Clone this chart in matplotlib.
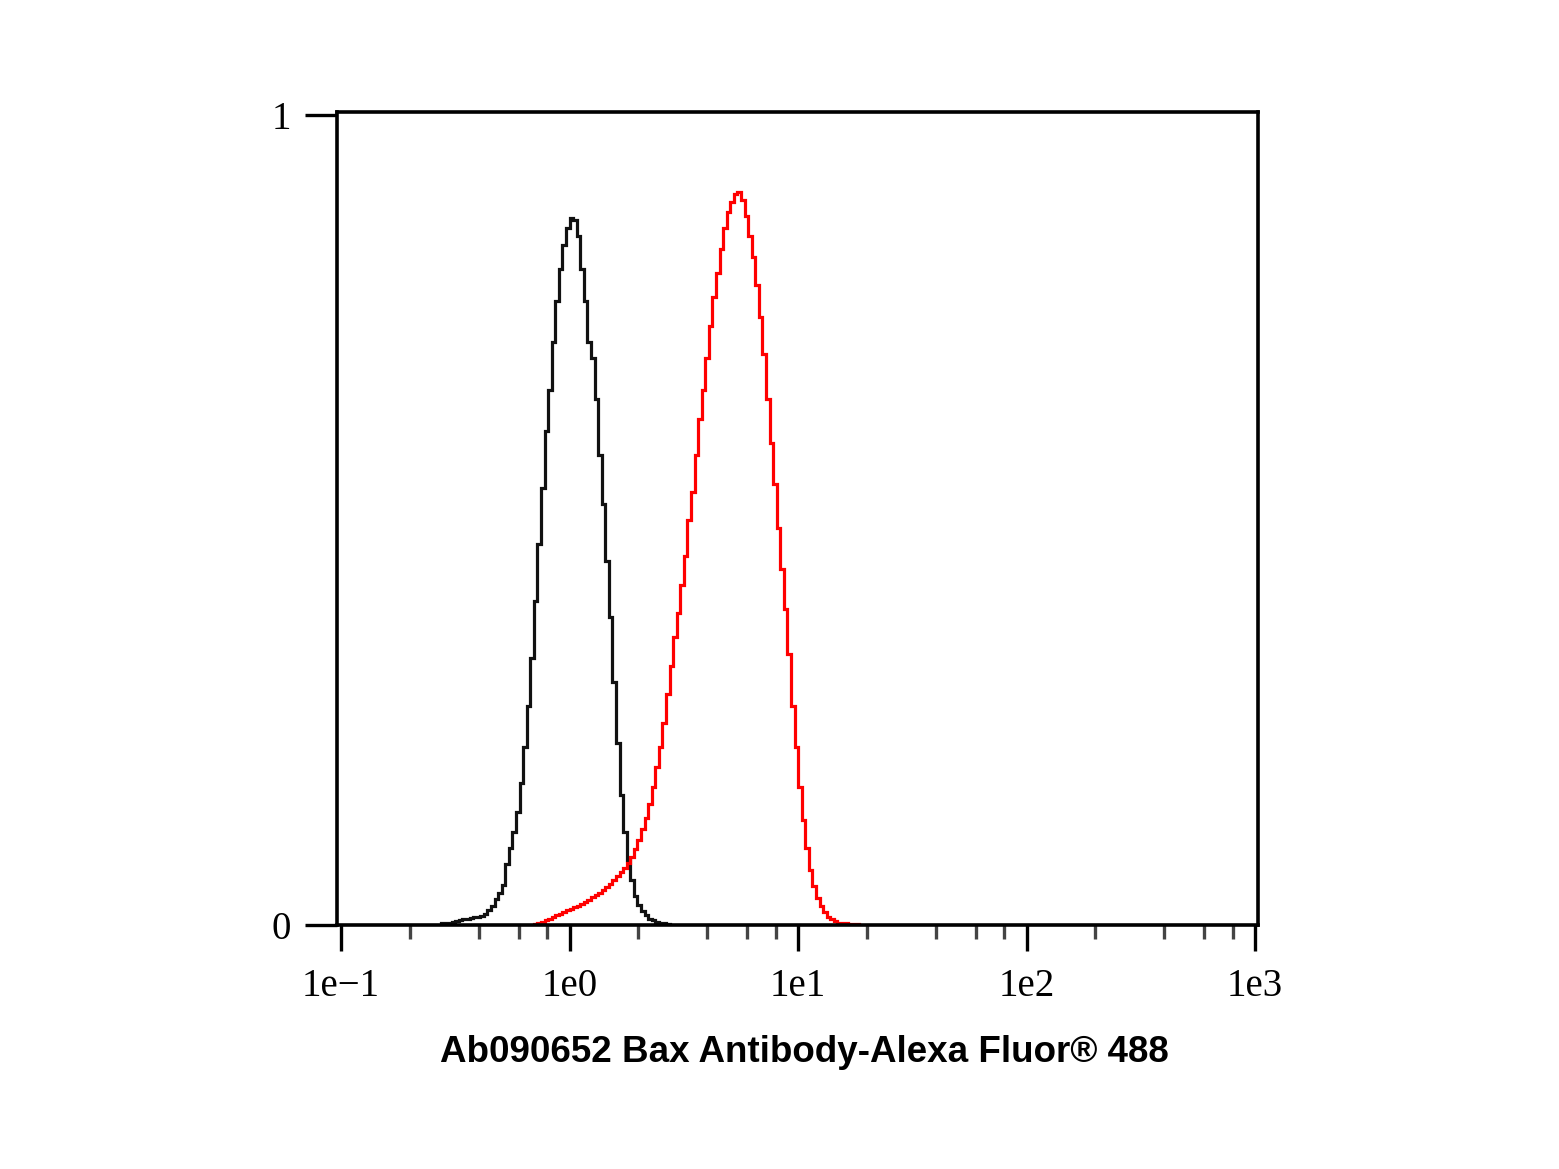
import numpy as np
import matplotlib
matplotlib.use("Agg")
import matplotlib.pyplot as plt
from matplotlib.ticker import LogLocator, NullFormatter

#-------------------------Datos---------------------------------------
canales_por_decada = 64   # 256 canales en 4 decadas

# histograma negro (control), empieza en el canal 28
inicio_negro = 28
alturas_negro = [0.002, 0.003, 0.003, 0.004, 0.005, 0.006, 0.007, 0.008, 0.009, 0.010,
                 0.010, 0.011, 0.014, 0.018, 0.024, 0.032, 0.040, 0.050, 0.075, 0.095,
                 0.115, 0.140, 0.175, 0.220, 0.270, 0.330, 0.400, 0.470, 0.540, 0.610,
                 0.660, 0.720, 0.770, 0.810, 0.840, 0.860, 0.873, 0.870, 0.850, 0.810,
                 0.770, 0.720, 0.700, 0.650, 0.580, 0.520, 0.450, 0.380, 0.300, 0.225,
                 0.160, 0.115, 0.080, 0.055, 0.036, 0.025, 0.017, 0.012, 0.008, 0.006,
                 0.004, 0.003, 0.002, 0.001]

# histograma rojo (Bax), empieza en el canal 54
inicio_rojo = 54
alturas_rojo = [0.001, 0.002, 0.004, 0.006, 0.008, 0.010, 0.012, 0.014, 0.016, 0.018,
                0.020, 0.022, 0.024, 0.026, 0.028, 0.031, 0.034, 0.037, 0.040, 0.043,
                0.047, 0.051, 0.055, 0.060, 0.065, 0.070, 0.076, 0.084, 0.094, 0.105,
                0.118, 0.132, 0.150, 0.170, 0.195, 0.220, 0.250, 0.285, 0.320, 0.355,
                0.385, 0.420, 0.455, 0.500, 0.535, 0.580, 0.625, 0.660, 0.700, 0.740,
                0.775, 0.805, 0.835, 0.860, 0.880, 0.893, 0.903, 0.905, 0.895, 0.875,
                0.850, 0.825, 0.790, 0.750, 0.705, 0.650, 0.595, 0.545, 0.490, 0.440,
                0.390, 0.335, 0.270, 0.220, 0.170, 0.130, 0.095, 0.068, 0.048, 0.033,
                0.023, 0.016, 0.010, 0.007, 0.005, 0.003, 0.002, 0.002, 0.001, 0.001,
                0.001]

ticks_x = [0.1, 1, 10, 100, 1000]
etiquetas_x = ["1e\u22121", "1e0", "1e1", "1e2", "1e3"]
ticks_y = [0, 1]
etiquetas_y = ["0", "1"]
titulo = "Ab090652 Bax Antibody-Alexa Fluor\u00ae 488"


def bordes(inicio, alturas):
    # bordes de los canales en escala log
    canales = np.arange(inicio, inicio + len(alturas) + 1)
    return 10 ** (-1 + canales / canales_por_decada)


#-------------------------Grafico-------------------------------------
fig = plt.figure(figsize=(15.59, 11.69), dpi=100)
ax = fig.add_axes([0.2162, 0.2087, 0.5908, 0.6955])

ax.stairs(alturas_negro, bordes(inicio_negro, alturas_negro), baseline=0,
          color="#111111", linewidth=2.3)
ax.stairs(alturas_rojo, bordes(inicio_rojo, alturas_rojo), baseline=0,
          color="#ff0000", linewidth=2.3)

ax.set_xscale("log")
ax.set_xlim(10 ** -1.0175, 10 ** 3.013)
ax.set_ylim(0, 1.0037)

fuente_ticks = {"family": "Liberation Serif", "size": 28}
ax.set_xticks(ticks_x)
ax.set_xticklabels(etiquetas_x, fontdict=fuente_ticks)
ax.xaxis.set_minor_locator(LogLocator(base=10, subs=[2, 4, 6, 8]))
ax.xaxis.set_minor_formatter(NullFormatter())
ax.set_yticks(ticks_y)
ax.set_yticklabels(etiquetas_y, fontdict=fuente_ticks)

ax.tick_params(axis="x", which="major", direction="out", length=19, width=2.4, pad=12)
ax.tick_params(axis="x", which="minor", direction="out", length=10, width=2.4, color="#444444")
ax.tick_params(axis="y", which="major", direction="out", length=23, width=2.4, pad=10)

for lado in ax.spines.values():
    lado.set_linewidth(2.6)

fig.text(0.5157, 0.0995, titulo, ha="center", va="center",
         family="Liberation Sans", weight="bold", size=26.5)

fig.savefig("out.png", dpi=100, facecolor="white")
